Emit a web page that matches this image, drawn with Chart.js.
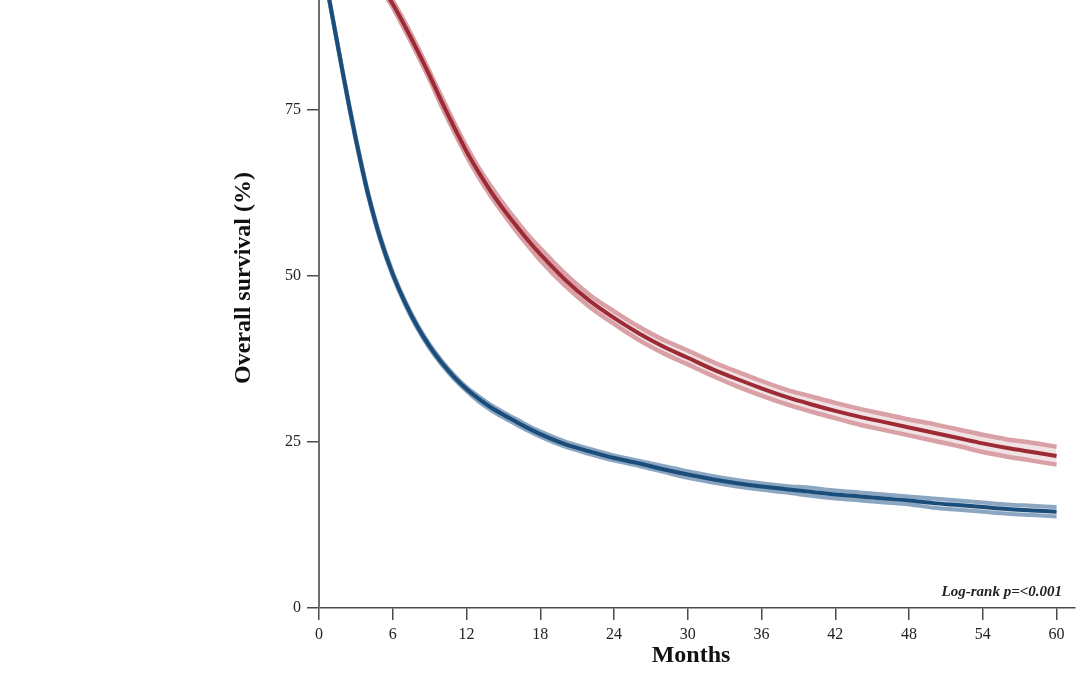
<!DOCTYPE html>
<html>
<head>
<meta charset="utf-8">
<script src="https://cdn.jsdelivr.net/npm/chart.js@4.4.1/dist/chart.umd.min.js"></script>
<style>
  body { margin: 0; background: #fff; }
  canvas { display: block; }
</style>
</head>
<body>
<canvas id="survival-chart" width="1080" height="675"></canvas>
<script>
// survival curves (months, % alive)
const months = [0, 0.5, 1, 1.5, 2, 2.5, 3, 3.5, 4, 5, 6, 7, 8, 9, 10, 11, 12, 13, 14, 15, 16, 17, 18,
  20, 22, 24, 26, 28, 30, 32, 34, 36, 38, 40, 42, 44, 46, 48, 50, 52, 54, 56, 58, 60];

const redEst = [100, 99.8, 99.5, 99.1, 98.6, 98.0, 97.3, 96.6, 95.8, 93.8, 91.0, 87.6, 84.0, 80.2, 76.2, 72.4, 68.8, 65.6, 62.7, 60.1, 57.7, 55.4, 53.3,
  49.5, 46.3, 43.7, 41.4, 39.4, 37.7, 36.0, 34.5, 33.1, 31.8, 30.7, 29.7, 28.8, 28.0, 27.2, 26.4, 25.6, 24.8, 24.1, 23.5, 22.9];
const redHi = [100, 99.9, 99.7, 99.3, 98.9, 98.3, 97.6, 97.0, 96.2, 94.3, 91.5, 88.2, 84.6, 80.8, 76.9, 73.1, 69.5, 66.3, 63.5, 60.9, 58.5, 56.2, 54.2,
  50.4, 47.2, 44.7, 42.4, 40.4, 38.8, 37.1, 35.6, 34.2, 32.9, 31.9, 30.9, 30.0, 29.2, 28.4, 27.7, 26.9, 26.1, 25.4, 24.9, 24.3];
const redLo = [100, 99.7, 99.4, 98.9, 98.3, 97.7, 97.0, 96.2, 95.4, 93.3, 90.5, 87.0, 83.4, 79.6, 75.5, 71.7, 68.1, 64.9, 62.0, 59.4, 56.9, 54.6, 52.4,
  48.6, 45.4, 42.8, 40.4, 38.4, 36.7, 35.0, 33.4, 32.0, 30.7, 29.6, 28.6, 27.6, 26.8, 26.0, 25.2, 24.4, 23.5, 22.8, 22.2, 21.6];

const blueEst = [100, 95.0, 90.0, 85.0, 80.0, 75.2, 70.6, 66.3, 62.3, 55.6, 50.3, 46.0, 42.4, 39.4, 36.9, 34.8, 33.0, 31.5, 30.2, 29.1, 28.1, 27.1, 26.2,
  24.7, 23.6, 22.6, 21.8, 20.9, 20.1, 19.4, 18.8, 18.3, 17.9, 17.5, 17.1, 16.8, 16.5, 16.2, 15.8, 15.5, 15.2, 14.9, 14.7, 14.5];
const blueHi = [100, 95.2, 90.2, 85.2, 80.2, 75.5, 70.9, 66.6, 62.6, 55.9, 50.6, 46.3, 42.7, 39.7, 37.2, 35.1, 33.3, 31.9, 30.6, 29.5, 28.5, 27.5, 26.6,
  25.1, 24.0, 23.0, 22.2, 21.4, 20.6, 19.9, 19.3, 18.8, 18.4, 18.1, 17.7, 17.4, 17.1, 16.8, 16.5, 16.2, 15.9, 15.6, 15.4, 15.2];
const blueLo = [100, 94.8, 89.8, 84.8, 79.8, 74.9, 70.3, 66.0, 62.0, 55.3, 50.0, 45.7, 42.1, 39.1, 36.6, 34.5, 32.7, 31.1, 29.8, 28.7, 27.7, 26.7, 25.8,
  24.3, 23.2, 22.2, 21.4, 20.5, 19.6, 18.9, 18.3, 17.8, 17.4, 16.9, 16.5, 16.2, 15.9, 15.6, 15.1, 14.8, 14.5, 14.2, 14.0, 13.8];

const xTicks = [0, 6, 12, 18, 24, 30, 36, 42, 48, 54, 60];
const yTicks = [0, 25, 50, 75];

const serif = "'Liberation Serif', 'DejaVu Serif', serif";
const axisColor = "#4a4a4a";

function toPoints(values) {
  return months.map((m, i) => ({ x: m, y: values[i] }));
}

function lineSet(values, color, width, order, fill) {
  return {
    data: toPoints(values),
    borderColor: color,
    borderWidth: width,
    pointRadius: 0,
    cubicInterpolationMode: "monotone",
    fill: fill || false,
    order: order,
  };
}

const redBand = lineSet(redLo, "#d9a0a6", 4.5, 2, { target: "-1", above: "#f1e2e4", below: "#f1e2e4" });
const blueBand = lineSet(blueLo, "#8ba6c1", 4, 2, { target: "-1", above: "#e3eaf2", below: "#e3eaf2" });

// texts that sit outside chart.js's own layout
const extraText = {
  id: "extraText",
  afterDraw(chart) {
    const ctx = chart.ctx;
    ctx.save();
    ctx.fillStyle = "#111";
    ctx.font = "bold 24px " + serif;
    ctx.textAlign = "center";
    ctx.textBaseline = "middle";
    ctx.fillText("Months", 691, 656);

    ctx.translate(244, 278);
    ctx.rotate(-Math.PI / 2);
    ctx.fillText("Overall survival (%)", 0, 0);
    ctx.restore();

    ctx.save();
    ctx.fillStyle = "#222";
    ctx.font = "italic bold 15px " + serif;
    ctx.textAlign = "right";
    ctx.textBaseline = "alphabetic";
    ctx.fillText("Log-rank p=<0.001", 1062, 596);
    ctx.restore();
  },
};

new Chart(document.getElementById("survival-chart"), {
  type: "line",
  data: {
    datasets: [
      lineSet(redHi, "#d9a0a6", 4.5, 2),
      redBand,
      lineSet(redEst, "#9c2b36", 4, 1),
      lineSet(blueHi, "#8ba6c1", 4, 2),
      blueBand,
      lineSet(blueEst, "#1b4d7a", 4, 1),
    ],
  },
  options: {
    responsive: false,
    animation: false,
    layout: { padding: { top: 0, right: 5, bottom: 0, left: 0 } },
    plugins: {
      legend: { display: false },
      tooltip: { enabled: false },
    },
    scales: {
      x: {
        type: "linear",
        min: 0,
        max: 61.5,
        afterBuildTicks: (s) => { s.ticks = xTicks.map((v) => ({ value: v })); },
        afterFit: (s) => { s.height = 67; s.paddingLeft = 0; s.paddingRight = 0; },
        ticks: {
          font: { family: serif, size: 16 },
          color: "#222",
          padding: 5,
          maxRotation: 0,
          autoSkip: false,
        },
        grid: { drawOnChartArea: false, tickLength: 12, color: axisColor, lineWidth: 1.5 },
        border: { color: axisColor, width: 1.5 },
      },
      y: {
        min: 0,
        max: 91.6,
        afterBuildTicks: (s) => { s.ticks = yTicks.map((v) => ({ value: v })); },
        afterFit: (s) => { s.width = 319; s.paddingTop = 0; s.paddingBottom = 0; },
        ticks: {
          font: { family: serif, size: 16 },
          color: "#222",
          padding: 6,
        },
        grid: { drawOnChartArea: false, tickLength: 12, color: axisColor, lineWidth: 1.5 },
        border: { color: "#6e6e6e", width: 2 },
      },
    },
  },
  plugins: [extraText],
});
</script>
</body>
</html>
